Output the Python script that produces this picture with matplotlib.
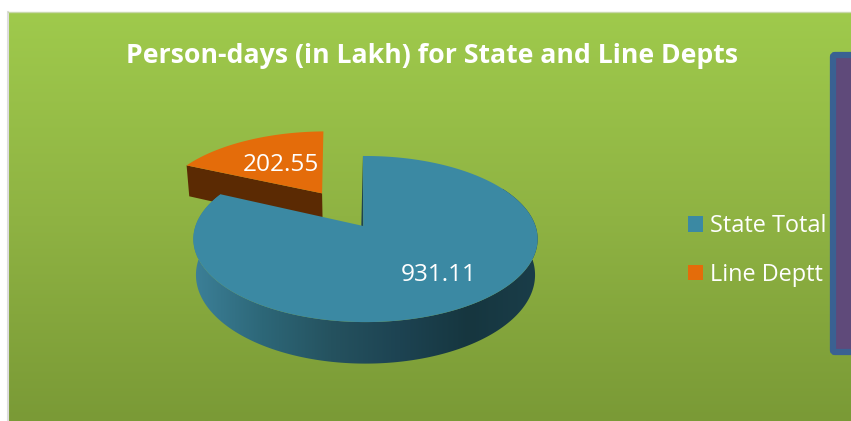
import numpy as np
import matplotlib
matplotlib.use('Agg')
import matplotlib.pyplot as plt
from matplotlib.colors import LinearSegmentedColormap
from matplotlib.patches import Polygon, FancyBboxPatch, Patch

# Data
categories = ['State Total', 'Line Deptt']
values = [931.11, 202.55]
value_labels = ['931.11', '202.55']
title = 'Person-days (in Lakh) for State and Line Depts'

top_colors = ['#3b89a3', '#e46c0a']
side_color_orange = '#5b2a03'
side_stops = ['#3c8098', '#2d6778', '#25525f', '#1d4352', '#16363f', '#1a3d49']

plt.rcParams['font.family'] = ['Open Sans', 'DejaVu Sans']

fig = plt.figure(figsize=(8.51, 4.21), dpi=100)
ax = fig.add_axes([0, 0, 1, 1])
ax.set_xlim(0, 851)
ax.set_ylim(421, 0)
ax.axis('off')

# Green background with vertical gradient
bg_cmap = LinearSegmentedColormap.from_list('bg', ['#9fca4c', '#8fb343', '#7a9a36'])
bg = ax.imshow(np.linspace(0, 1, 256).reshape(-1, 1), cmap=bg_cmap, aspect='auto',
               extent=(8, 851, 421, 12), zorder=1)
ax.plot([8, 8], [12, 421], color='#dddddd', lw=1.5, zorder=1.5)
ax.plot([8, 851], [12, 12], color='#c9d8ab', lw=1, zorder=1.5)
ax.set_xlim(0, 851)
ax.set_ylim(421, 0)

# Purple box on the right
box = FancyBboxPatch((833, 55), 40, 297, boxstyle='round,pad=0,rounding_size=2',
                     facecolor='#5f4a7a', edgecolor='#3a6192', lw=4.5, zorder=2)
ax.add_patch(box)

# Perspective pie helpers
KW = 0.157
SY = 81
SX = 170
CY = 226
DEPTH = 35


def project(u, v, x0=365.5):
    w = 1 + KW * v
    return x0 + SX * u / w, CY - SY * v / w


def lower(x, y, v, x0=365.5):
    return x0 + (x - x0) * 0.985, y + DEPTH / (1 + KW * v)


total = sum(values)
start = np.radians(-1)
split = start + 2 * np.pi * values[0] / total

# Line Deptt slice, pulled out of the pie
du, dv = -0.257, 0.43
t = np.linspace(split, start + 2 * np.pi, 60)
u, v = np.sin(t) + du, np.cos(t) + dv
ox, oy = project(u, v, 361.5)
ax_, ay_ = project(np.array([du]), np.array([dv]), 363)

# wall of the orange slice
wall_top = np.array([[ox[0], oy[0]], [ax_[0], ay_[0]]])
lx0, ly0 = lower(ox[0], oy[0], v[0], 363)
lx1, ly1 = lower(ax_[0], ay_[0], dv, 363)
ax.add_patch(Polygon([wall_top[0], wall_top[1], (lx1, ly1), (lx0, ly0)],
                     facecolor=side_color_orange, edgecolor='none', zorder=3))
ax.add_patch(Polygon(np.vstack([np.c_[ox, oy], [ax_[0], ay_[0]]]),
                     facecolor=top_colors[1], edgecolor='none', zorder=4))

# State Total slice, side with horizontal gradient
t = np.linspace(start, split, 300)
u, v = np.sin(t), np.cos(t)
mx, my = project(u, v)
front = t > np.radians(60)
lx, ly = lower(mx[front], my[front], v[front])
side_poly = Polygon(np.vstack([np.c_[mx[front], my[front]], np.c_[lx, ly][::-1]]),
                    facecolor='none', edgecolor='none', transform=ax.transData)
ax.add_patch(side_poly)
side_cmap = LinearSegmentedColormap.from_list('side', side_stops)
im = ax.imshow(np.linspace(0, 1, 256).reshape(1, -1), cmap=side_cmap, aspect='auto',
               extent=(193, 538, 370, 180), zorder=5)
im.set_clip_path(side_poly)
ax.set_xlim(0, 851)
ax.set_ylim(421, 0)

# thin dark wall on the start edge
ax.add_patch(Polygon([(mx[0], my[0]), (363.3, 226), (361.3, 226)],
                     facecolor='#1d4352', edgecolor='none', zorder=5.5))
ax.add_patch(Polygon(np.vstack([np.c_[mx, my], [363.3, 226]]),
                     facecolor=top_colors[0], edgecolor='none', zorder=6))

# Data labels
ax.text(439, 275, value_labels[0], color='white', fontsize=17.6, ha='center', va='center', zorder=7)
ax.text(281, 165, value_labels[1], color='white', fontsize=17.6, ha='center', va='center', zorder=7)

# Title
ax.text(432, 56, title, color='white', fontsize=19.2, fontweight='bold',
        ha='center', va='center', zorder=7)

# Legend
handles = [Patch(facecolor=c, edgecolor='none') for c in top_colors]
leg = ax.legend(handles, categories, loc='upper left', bbox_to_anchor=(688, 214),
                bbox_transform=ax.transData, frameon=False, fontsize=16.9,
                labelcolor='white', handlelength=0.64, handleheight=0.64,
                handletextpad=0.3, labelspacing=1.06, borderpad=0, borderaxespad=0)
leg.set_zorder(7)

fig.savefig('out.png', dpi=100)
